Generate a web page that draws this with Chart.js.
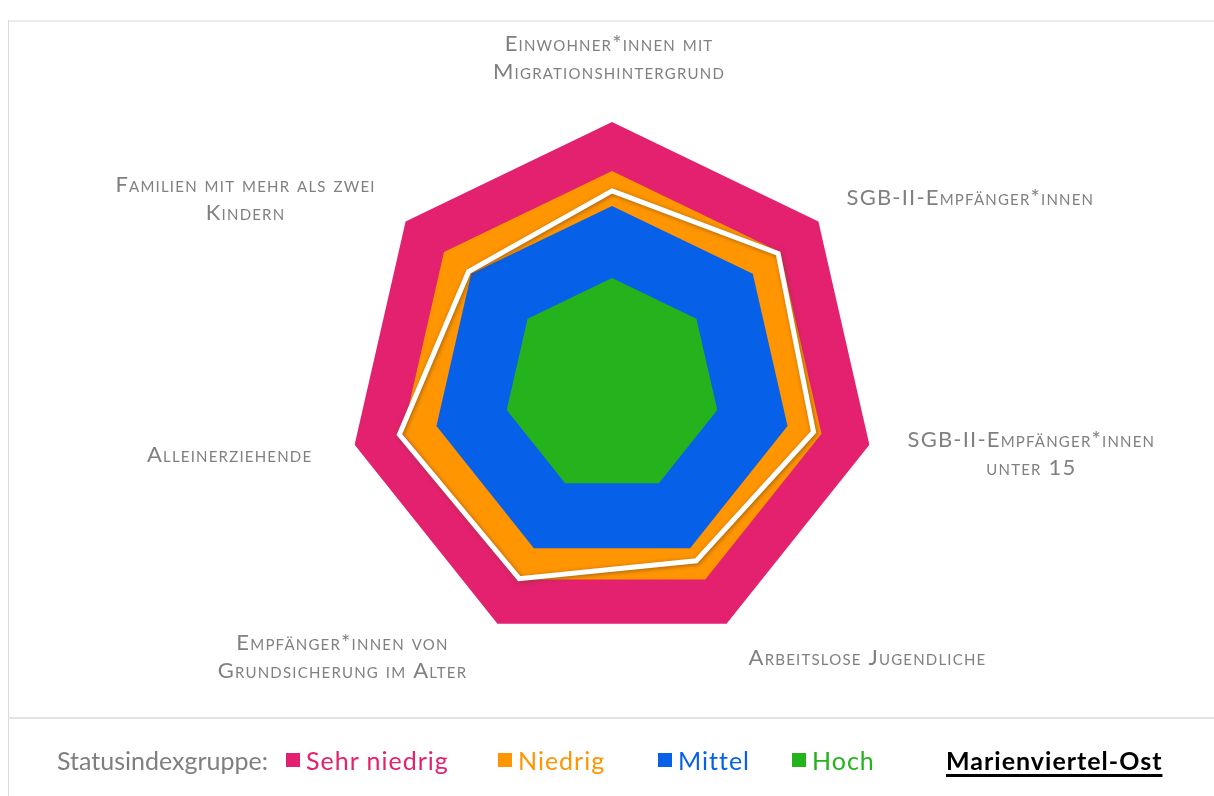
<!DOCTYPE html>
<html><head><meta charset="utf-8">
<script src="https://cdn.jsdelivr.net/npm/chart.js@4/dist/chart.umd.min.js"></script>
<style>
html,body{margin:0;padding:0;background:#fff;}
body{width:1214px;height:796px;position:relative;overflow:hidden;font-family:Lato,"Open Sans",sans-serif;}
#c{position:absolute;left:0;top:0;}
#frameTop{position:absolute;left:8px;top:20px;width:1206px;height:2px;background:#ededed;}
#frameLeft{position:absolute;left:8px;top:20px;width:1px;height:776px;background:#d9d9d9;}
#sep{position:absolute;left:8px;top:717px;width:1206px;height:2px;background:#e3e3e3;}
#legend{position:absolute;left:0;top:742px;width:1214px;height:36px;font-size:25px;white-space:nowrap;}
#legend span{position:absolute;top:0;line-height:36px;}
#legend .sq{width:14px;height:14px;top:11px;}
</style></head>
<body>
<canvas id="c" width="1214" height="796" style="width:1214px;height:796px"></canvas>
<div id="frameTop"></div><div id="frameLeft"></div><div id="sep"></div>
<div id="legend"></div>
<script>
// ---- data ----
const categories = [
  ["Einwohner*innen mit", "Migrationshintergrund"],
  ["SGB-II-Empfänger*innen"],
  ["SGB-II-Empfänger*innen", "unter 15"],
  ["Arbeitslose Jugendliche"],
  ["Empfänger*innen von", "Grundsicherung im Alter"],
  ["Alleinerziehende"],
  ["Familien mit mehr als zwei", "Kindern"]
];
const seriesNames = ["Sehr niedrig", "Niedrig", "Mittel", "Hoch"];
const sehrNiedrig = [100, 100, 100, 100, 100, 100, 100];
const niedrig     = [81.4, 81.4, 81.4, 81.4, 81.4, 81.4, 81.4];
const mittel      = [68.2, 68.2, 68.2, 68.2, 68.2, 68.2, 68.2];
const hoch        = [40.9, 40.9, 40.9, 40.9, 40.9, 40.9, 40.9];
const areaName = "Marienviertel-Ost";
const marienviertelOst = [73.9, 80.5, 78.3, 73.5, 81.0, 82.6, 69.5];
const legendPrefix = "Statusindexgruppe:";

// ---- styles / layout ----
const colors = ["#E3216E", "#FF9500", "#0760E8", "#24B31C"];
const labelOffsets = [[-3,-64],[152,-23],[162,9],[141,34],[-155,33],[-125,10],[-160,-22]];
const labelLineH = 28;
const legendX = {prefix:57, items:[286,498,658,792], area:946};

const lineShadow = {
  id: 'lineShadow',
  beforeDatasetDraw(chart, args) {
    if (args.index === 0) {
      const c = chart.ctx; c.save();
      c.shadowColor = 'rgba(110,70,30,0.65)';
      c.shadowBlur = 4; c.shadowOffsetX = 1; c.shadowOffsetY = 1;
    }
  },
  afterDatasetDraw(chart, args) { if (args.index === 0) chart.ctx.restore(); }
};
const cornerLabels = {
  id: 'cornerLabels',
  afterDraw(chart) {
    const scale = chart.scales.r, ctx = chart.ctx;
    ctx.save();
    ctx.font = 'small-caps 400 22px Lato, "Open Sans", sans-serif';
    ctx.letterSpacing = '1.2px';
    ctx.fillStyle = '#808080';
    ctx.textAlign = 'center'; ctx.textBaseline = 'middle';
    chart.data.labels.forEach((lines, i) => {
      const p = scale.getPointPosition(i, scale.drawingArea);
      const cx = p.x + labelOffsets[i][0], cy = p.y + labelOffsets[i][1];
      const n = lines.length;
      lines.forEach((t, j) => ctx.fillText(t, cx, cy + (j - (n - 1) / 2) * labelLineH));
    });
    ctx.restore();
  }
};

const fillSets = [sehrNiedrig, niedrig, mittel, hoch].map((d, i) => ({
  label: seriesNames[i], data: d, order: 4 - i,
  backgroundColor: colors[i], borderWidth: 0, fill: 'origin', pointRadius: 0
}));

new Chart(document.getElementById('c'), {
  type: 'radar',
  data: {
    labels: categories,
    datasets: [{
      label: areaName, data: marienviertelOst, order: 0,
      borderColor: '#ffffff', borderWidth: 5, fill: false, pointRadius: 0,
      borderJoinStyle: 'miter', backgroundColor: 'transparent'
    }].concat(fillSets)
  },
  options: {
    responsive: false, animation: false,
    layout: { padding: { left: 348, right: 338, top: 122, bottom: 146 } },
    elements: { line: { tension: 0 } },
    plugins: { legend: { display: false }, tooltip: { enabled: false } },
    scales: {
      r: {
        min: 0, max: 100,
        ticks: { display: false },
        grid: { display: false },
        angleLines: { display: false },
        pointLabels: { display: false }
      }
    }
  },
  plugins: [lineShadow, cornerLabels]
});

// ---- HTML legend ----
const lg = document.getElementById('legend');
function add(text, left, style, cls) {
  const s = document.createElement('span');
  if (cls) s.className = cls;
  s.textContent = text; s.style.left = left + 'px';
  Object.assign(s.style, style || {});
  lg.appendChild(s); return s;
}
add(legendPrefix, legendX.prefix, {color: '#7f7f7f'});
seriesNames.forEach((n, i) => {
  add('', legendX.items[i], {background: colors[i]}, 'sq');
  add(n, legendX.items[i] + 20, {color: colors[i], letterSpacing: '1px'});
});
add(areaName, legendX.area, {color: '#000', fontWeight: 'bold', letterSpacing: '1px', textDecoration: 'underline', textDecorationThickness: '3px', textUnderlineOffset: '4px'});
</script>
</body></html>
